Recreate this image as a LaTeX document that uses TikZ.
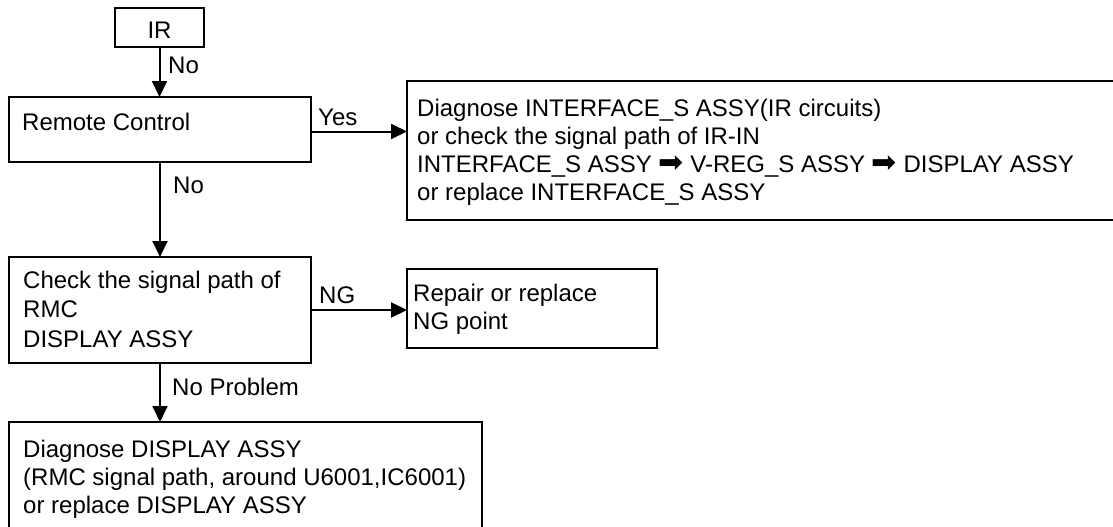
\documentclass[tikz,border=0pt]{standalone}
\usepackage{fontspec}
\setmainfont{Liberation Sans}
\newfontfamily\symfont{DejaVu Sans}
\newcommand{\rarr}{{\symfont\fontsize{30}{28}\selectfont ➡}}
\usetikzlibrary{arrows.meta}
\begin{document}
\begin{tikzpicture}[x=1pt,y=-1pt,
  box/.style={draw, line width=2pt, anchor=north west, inner sep=0pt, outer sep=0pt},
  txt/.style={anchor=base west, inner sep=0pt, align=left, font=\fontsize{24}{28}\selectfont},
  lbl/.style={anchor=base west, inner sep=0pt, font=\fontsize{24}{28}\selectfont},
  arr/.style={line width=2pt, -{Triangle[width=15pt,length=16pt]}}]
\useasboundingbox (0,0) rectangle (1113,527);
\clip (0,0) rectangle (1113,527);
% boxes
\node[box, minimum width=89pt, minimum height=39pt] (ir) at (115,8) {};
\node[box, minimum width=302pt, minimum height=65pt] (remote) at (9,97) {};
\node[box, minimum width=720pt, minimum height=139pt] (rb) at (407,81) {};
\node[box, minimum width=302pt, minimum height=106pt] (check) at (9,257) {};
\node[box, minimum width=250pt, minimum height=79pt] (repair) at (407,269) {};
\node[box, minimum width=473pt, minimum height=120pt] (bottom) at (9,422) {};
% texts (anchor base = baseline of the last line)
\node[lbl, anchor=base] (irt) at (159.5,39) {IR};
\node[txt] (remotet) at (22,130) {Remote Control};
\node[txt] (rbt) at (417,200) {Diagnose INTERFACE\_S ASSY(IR circuits)\\
or check the signal path of IR-IN\\
INTERFACE\_S ASSY \rarr{} V-REG\_S ASSY \rarr{} DISPLAY ASSY\\
or replace INTERFACE\_S ASSY};
\node[txt, font=\fontsize{24}{29.5}\selectfont] (checkt) at (23,347) {Check the signal path of\\RMC\\DISPLAY ASSY};
\node[txt] (repairt) at (413,329) {Repair or replace\\NG point};
\node[txt] (bottomt) at (23,513) {Diagnose DISPLAY ASSY\\(RMC signal path, around U6001,IC6001)\\or replace DISPLAY ASSY};
% connectors
\coordinate (ya) at ([yshift=-2pt]remote.east);
\draw[arr] (ir.south) -- (ir.south |- remote.north);
\draw[arr] (ya) -- (ya -| rb.west);
\draw[arr] (remote.south) -- (remote.south |- check.north);
\draw[arr] (check.east) -- (check.east -| repair.west);
\draw[arr] (check.south) -- (check.south |- bottom.north);
% labels
\node[lbl] (l1) at (168,74) {No};
\node[lbl] (l2) at (318,125) {Yes};
\node[lbl] (l3) at (173,193) {No};
\node[lbl] (l4) at (319,303) {NG};
\node[lbl] (l5) at (172,395) {No Problem};
\end{tikzpicture}
\end{document}
